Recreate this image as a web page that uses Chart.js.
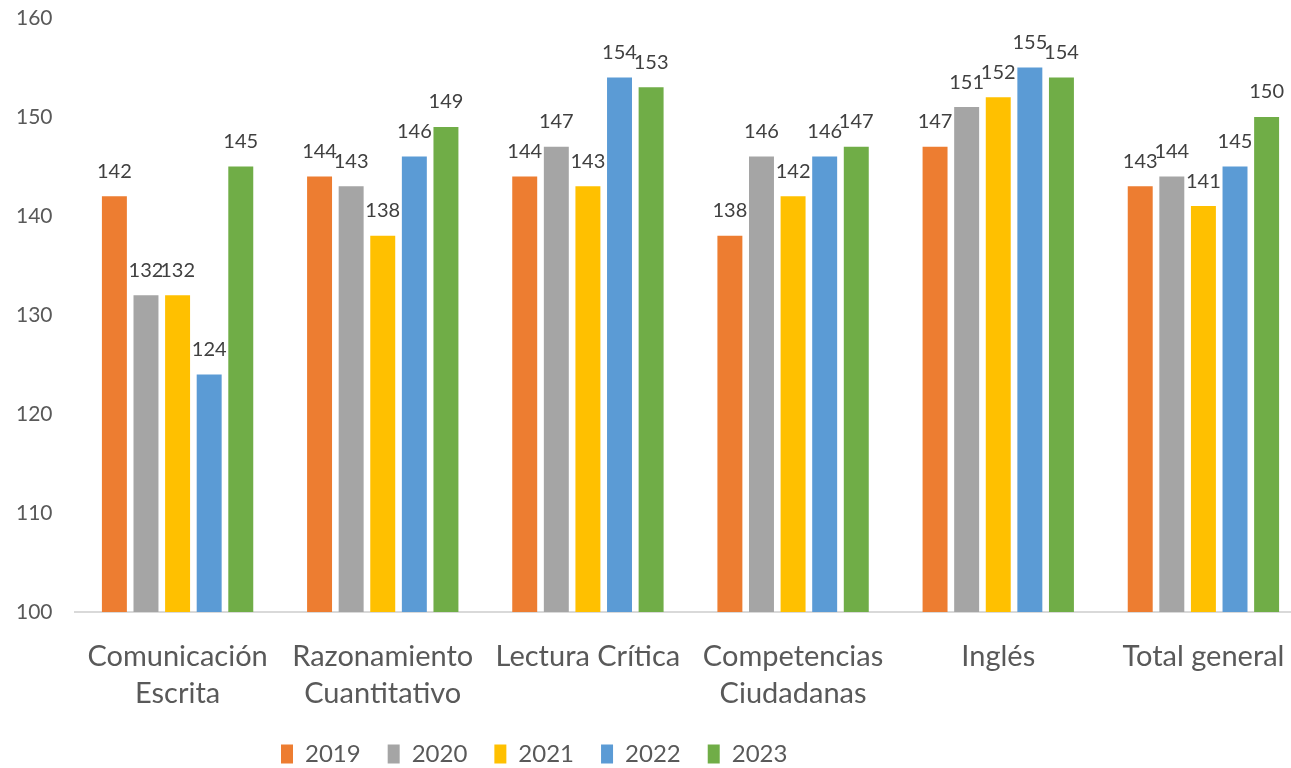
<!DOCTYPE html>
<html>
<head>
<meta charset="utf-8">
<script src="https://cdn.jsdelivr.net/npm/chart.js@4.4.0/dist/chart.umd.min.js"></script>
<style>
  html, body { margin: 0; padding: 0; background: #fff; overflow: hidden; }
  #wrap { width: 1306px; height: 776px; }
</style>
</head>
<body>
<div id="wrap"><canvas id="myChart"></canvas></div>
<script>
const CATEGORIES = [
  ["Comunicación", "Escrita"],
  ["Razonamiento", "Cuantitativo"],
  "Lectura Crítica",
  ["Competencias", "Ciudadanas"],
  "Inglés",
  "Total general",
];
const YEARS = ["2019", "2020", "2021", "2022", "2023"];
const COLORS = ["#ED7D31", "#A5A5A5", "#FFC000", "#5B9BD5", "#70AD47"];

const V2019 = [142, 144, 144, 138, 147, 143];
const V2020 = [132, 143, 147, 146, 151, 144];
const V2021 = [132, 138, 143, 142, 152, 141];
const V2022 = [124, 146, 154, 146, 155, 145];
const V2023 = [145, 149, 153, 147, 154, 150];
const SERIES = [V2019, V2020, V2021, V2022, V2023];

const Y_MIN = 100;
const Y_MAX = 160;
const Y_STEP = 10;

const FONT = "Lato, Carlito, Calibri, sans-serif";
const LEGEND_PAD = 27;

// draw value labels above each bar
const barLabels = {
  id: "barLabels",
  afterDatasetsDraw(chart) {
    const ctx = chart.ctx;
    ctx.save();
    ctx.font = "20px " + FONT;
    ctx.fillStyle = "#404040";
    ctx.textAlign = "center";
    ctx.textBaseline = "middle";
    chart.data.datasets.forEach((ds, i) => {
      chart.getDatasetMeta(i).data.forEach((bar, j) => {
        ctx.fillText(ds.data[j], bar.x, bar.y - 25);
      });
    });
    ctx.restore();
  },
};

// the original legend sits left of centre (picture is cropped on the right)
const legendShift = {
  id: "legendShift",
  afterLayout(chart) {
    chart.legend.left = 281 - LEGEND_PAD;
  },
};

var ctx = document.getElementById("myChart").getContext("2d");
var myChart = new Chart(ctx, {
  type: "bar",
  data: {
    labels: CATEGORIES,
    datasets: YEARS.map((y, i) => ({
      label: y,
      data: SERIES[i],
      backgroundColor: COLORS[i],
      categoryPercentage: 0.77,
      barPercentage: 0.79,
    })),
  },
  options: {
    responsive: true,
    maintainAspectRatio: false,
    animation: false,
    layout: { padding: { top: 18, left: 16, right: 0, bottom: 0 } },
    plugins: {
      tooltip: { enabled: false },
      legend: {
        position: "bottom",
        align: "start",
        labels: {
          color: "#595959",
          font: { family: FONT, size: 24 },
          boxWidth: 12,
          boxHeight: 19,
          padding: LEGEND_PAD,
        },
      },
    },
    scales: {
      x: {
        grid: { display: false },
        border: { display: true, color: "#D9D9D9", width: 2 },
        ticks: {
          color: "#595959",
          font: { family: FONT, size: 29, lineHeight: "37px" },
          padding: 18,
          maxRotation: 0,
          autoSkip: false,
        },
        afterFit: (scale) => { scale.height = 103; },
      },
      y: {
        min: Y_MIN,
        max: Y_MAX,
        grid: { display: false },
        border: { display: false },
        ticks: {
          stepSize: Y_STEP,
          color: "#595959",
          font: { family: FONT, size: 21 },
          padding: 0,
          crossAlign: "far",
        },
        afterFit: (scale) => { scale.width = 59; },
      },
    },
  },
  plugins: [barLabels, legendShift],
});
</script>
</body>
</html>
